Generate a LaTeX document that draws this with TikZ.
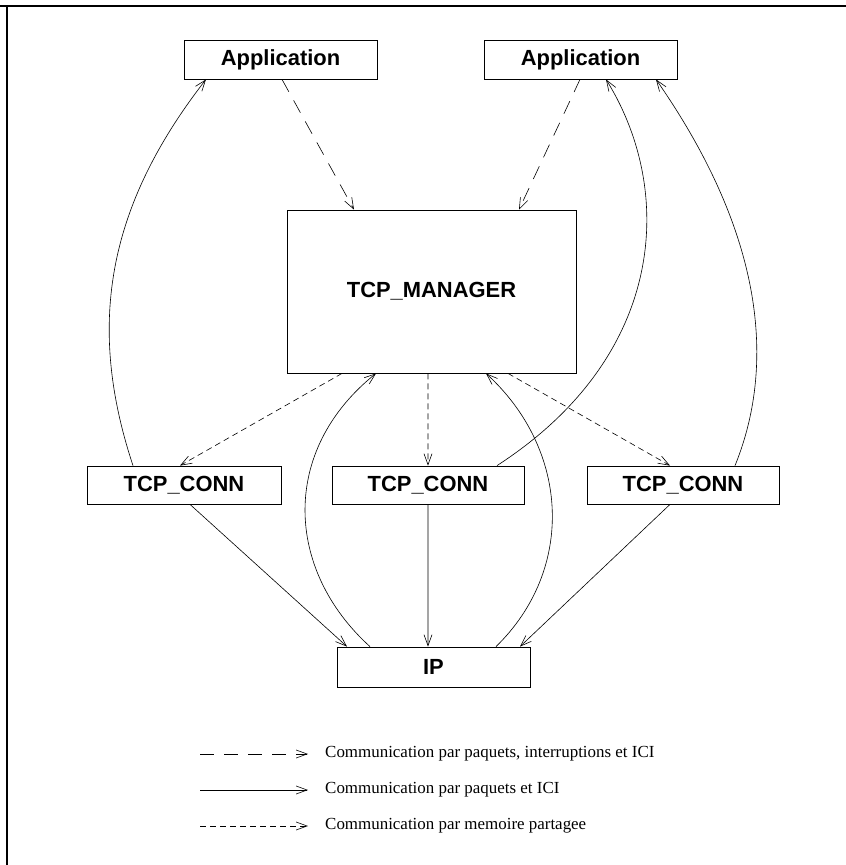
\documentclass[tikz,border=0pt]{standalone}
\usepackage{fontspec}
\setmainfont{Liberation Serif}
\setsansfont{Liberation Sans}
\usetikzlibrary{arrows.meta,positioning}

\begin{document}
\begin{tikzpicture}[
x=1bp, y=-1bp,
module/.style={draw, line width=0.8bp, inner sep=0pt, minimum width=193bp, minimum height=39bp,
  font=\sffamily\bfseries\fontsize{22}{26}\selectfont},
legendtext/.style={anchor=west, inner sep=0pt, font=\rmfamily\fontsize{17}{20}\selectfont},
arrowline/.style={-{Straight Barb[length=11bp,width=8bp]}, line width=0.6bp},
interrupt/.style={arrowline, dash pattern=on 14bp off 10bp},
packet/.style={arrowline},
shared/.style={arrowline, dash pattern=on 6bp off 4bp}
]
    \useasboundingbox (0,0) rectangle (846,865);

    % Frame
    \draw[line width=1.5bp] (0,6) -- (846,6);
    \draw[line width=1.5bp] (7,6) -- (7,865);

    % Modules
    \node[module] (app1) at (280.5,59.5) {Application};
    \node[module] (app2) at (580.5,59.5) {Application};
    \node[module, minimum width=289bp, minimum height=163bp] (manager) at (431.5,291.5) {TCP\_MANAGER};
    \node[module, minimum width=194bp, minimum height=38bp] (conn1) at (184,485) {TCP\_CONN};
    \node[module, minimum width=192bp, minimum height=38bp] (conn2) at (428,485) {TCP\_CONN};
    \node[module, minimum width=192bp, minimum height=38bp] (conn3) at (683,485) {TCP\_CONN};
    \node[module, minimum height=40bp] (ip) at (433.5,667) {IP};

    % Applications -> manager
    \draw[interrupt] ([xshift=1.5bp]app1.south) -- ([xshift=-77.5bp]manager.north);
    \draw[interrupt] ([xshift=-0.5bp]app2.south) -- ([xshift=87.5bp]manager.north);

    % Manager -> connexions
    \draw[shared] ([xshift=-89.5bp]manager.south) -- ([xshift=-4bp]conn1.north);
    \draw[shared] ([xshift=-3.5bp]manager.south) -- (conn2.north);
    \draw[shared] ([xshift=76.5bp]manager.south) -- ([xshift=-13bp]conn3.north);

    % Connexions -> applications
    \draw[packet] ([xshift=-51bp]conn1.north) .. controls +(-45,-136) and +(-102,131) .. ([xshift=-74.5bp]app1.south);
    \draw[packet] ([xshift=69bp]conn2.north) .. controls +(170,-110) and +(69,111) .. ([xshift=25.5bp]app2.south);
    \draw[packet] ([xshift=52bp]conn3.north) .. controls +(35,-86) and +(119,171) .. ([xshift=75.5bp]app2.south);

    % Connexions -> IP
    \draw[packet] ([xshift=6bp]conn1.south) -- ([xshift=-86.5bp]ip.north);
    \draw[packet] (conn2.south) -- ([xshift=-5.5bp]ip.north);
    \draw[packet] ([xshift=-13bp]conn3.south) -- ([xshift=86.5bp]ip.north);

    % IP -> manager
    \draw[packet] ([xshift=-63.5bp]ip.north) .. controls +(-85,-77) and +(-96,77) .. ([xshift=-55.5bp]manager.south);
    \draw[packet] ([xshift=62.5bp]ip.north) .. controls +(79,-77) and +(84,77) .. ([xshift=54.5bp]manager.south);

    % Legend
    \node[legendtext] (leg1) at (325,754) {Communication par paquets, interruptions et ICI};
    \node[legendtext] (leg2) at (325,790) {Communication par paquets et ICI};
    \node[legendtext] (leg3) at (325,826) {Communication par memoire partagee};
    \coordinate (s1) at (200,754);
    \coordinate (s2) at (200,790);
    \coordinate (s3) at (200,826);
    \draw[interrupt] (s1) -- ([xshift=-17bp]leg1.west);
    \draw[packet] (s2) -- ([xshift=-17bp]leg2.west);
    \draw[shared] (s3) -- ([xshift=-17bp]leg3.west);

\end{tikzpicture}
\end{document}
